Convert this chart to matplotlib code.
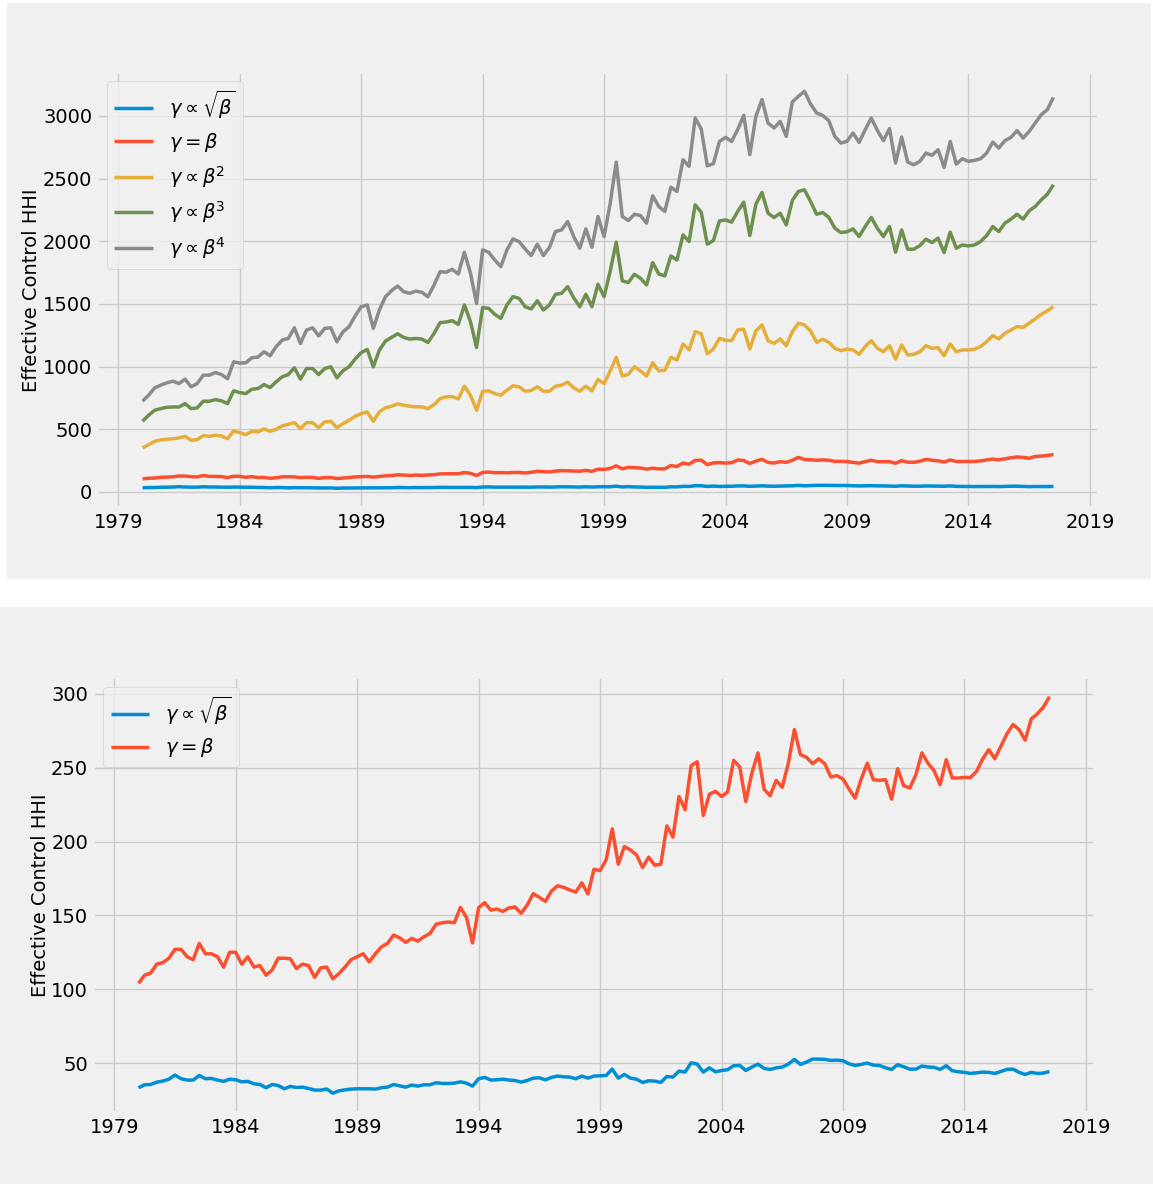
import numpy as np
import pandas as pd
from matplotlib import pyplot as plt
from matplotlib.patches import Rectangle

# Quarterly observations, 1980Q1 - 2017Q3
quarters = pd.period_range('1980Q1', '2017Q3', freq='Q')
years = quarters.year + (quarters.quarter - 1) / 4

# Effective control HHI for each gamma/beta assumption
hhi_sqrt = [
    33.3, 35.3, 35.5, 37.1, 37.8, 39.1, 41.9, 39.4, 38.5, 38.5,
    41.6, 39.4, 39.6, 38.5, 37.6, 39.1, 38.7, 37.3, 37.6, 36.0,
    35.5, 33.3, 35.5, 34.8, 32.6, 34.2, 33.5, 33.7, 32.8, 31.7,
    31.7, 32.4, 29.6, 31.2, 31.9, 32.4, 32.6, 32.6,
    32.6, 32.4, 33.3, 33.7, 35.5, 34.6, 33.7, 35.1, 34.4, 35.3,
    35.3, 36.7, 36.2, 36.2, 36.4, 37.3, 36.4, 34.4, 39.4, 40.3,
    38.5, 38.7, 39.1, 38.5, 38.2, 37.1, 38.2, 39.8, 40.0, 38.7,
    40.3, 41.2, 40.7, 40.5, 39.4, 41.2, 39.8, 41.2, 41.4,
    41.6, 45.9, 39.8, 42.3, 39.8, 39.1, 36.9, 38.0, 37.8, 36.9,
    40.9, 40.5, 44.6, 43.9, 50.2, 49.3, 43.9, 46.8, 44.1, 45.0,
    45.5, 48.2, 48.4, 45.0, 47.3, 49.3, 46.4, 45.7, 46.8, 47.3,
    49.3, 52.5, 49.1, 50.7, 52.7, 52.7, 52.5, 51.8, 52.0,
    51.6, 49.5, 48.4, 49.1, 50.0, 48.6, 48.4, 46.8, 45.7, 48.9,
    47.5, 45.9, 45.9, 48.0, 47.3, 47.1, 45.7, 48.2, 44.8, 44.1,
    43.7, 43.0, 43.4, 43.9, 43.7, 43.0, 44.3, 45.7, 45.9, 43.7,
    42.3, 43.7, 43.0, 43.2, 44.3,
]
hhi_lin = [
    104, 109.5, 111, 117, 118, 121, 127, 127, 122, 120,
    131, 124, 124, 122, 115, 125, 125, 117, 122, 115,
    116, 109.5, 113, 121, 121, 120.6, 114, 117, 116, 108,
    114.5, 115, 107, 110.6, 115, 120, 122, 124,
    118.5, 124, 128.7, 131, 136.7, 134.8, 131.7, 134.4, 132.6, 135.5,
    137.8, 144, 145, 145.5, 145, 155.4, 148.6, 131.4, 155.2, 158.6,
    153.6, 154.3, 152.7, 155, 155.7, 151.4, 157, 164.7, 162.2, 159.5,
    166.5, 170, 169, 167.2, 165.8, 172, 164.5, 181.2, 180.3,
    187.6, 208.6, 184.6, 196.6, 194.3, 191, 182.4, 189.4, 184, 184.6,
    210.6, 203, 230.5, 221.5, 251.4, 254, 217.6, 232, 234, 230.5,
    233.5, 255, 250.5, 227, 246.4, 260, 235.5, 231, 241.4, 236.7,
    253, 275.8, 258.8, 257, 252.7, 256, 252.7, 243.7, 244.6,
    242.3, 235.5, 229.4, 242.3, 253, 241.9, 241.4, 241.9, 228.7, 249.3,
    237.8, 236.2, 245.2, 260, 253, 248, 238.5, 255.4, 243, 243,
    243.4, 243.4, 247.5, 255.9, 262.2, 256.1, 264.5, 272.9, 279.2, 275.8,
    268.6, 283, 286.4, 291, 298,
]
hhi_sq = [
    351, 377, 404, 415, 420, 425, 431, 444, 412, 418,
    450, 444, 452, 447, 425, 487, 473, 457, 484, 479,
    503, 484, 500, 527, 540, 553, 505, 553, 553, 513,
    559, 564, 513, 545, 572, 604, 625, 639, 564,
    639, 671, 684, 703, 692, 684, 679, 679, 665, 697,
    745, 759, 761, 743, 844, 772, 652, 804, 807, 785,
    772, 812, 847, 839, 804, 809, 839, 804, 804, 844,
    852, 876, 831, 804, 844, 807, 898, 865, 965,
    1074, 925, 939, 1000, 965, 925, 1031, 965, 971, 1074,
    1053, 1181, 1133, 1279, 1263, 1103, 1141, 1226, 1210, 1207,
    1293, 1298, 1141, 1285, 1333, 1207, 1186, 1221, 1167, 1279,
    1346, 1333, 1285, 1194, 1218, 1194, 1146, 1128, 1140,
    1133, 1098, 1160, 1207, 1146, 1119, 1167, 1060, 1173, 1093,
    1098, 1119, 1167, 1146, 1151, 1087, 1181, 1119, 1133, 1133,
    1139, 1160, 1199, 1247, 1221, 1266, 1293, 1319, 1314, 1346,
    1381, 1418, 1445, 1479,
]
hhi_cube = [
    564, 612, 652, 665, 676, 678, 678, 705, 665, 671,
    724, 724, 737, 727, 705, 807, 793, 785, 820, 825,
    857, 833, 879, 919, 937, 991, 900, 985, 985, 937,
    985, 999, 911, 967, 999, 1060, 1111, 1137, 999,
    1132, 1204, 1233, 1262, 1233, 1220, 1225, 1220, 1193, 1265,
    1351, 1356, 1367, 1337, 1492, 1359, 1153, 1471, 1465, 1417,
    1385, 1492, 1558, 1545, 1478, 1460, 1526, 1452, 1492, 1577,
    1585, 1638, 1550, 1478, 1577, 1478, 1657, 1558, 1760,
    1993, 1684, 1671, 1737, 1705, 1652, 1830, 1740, 1724, 1883,
    1851, 2051, 1998, 2291, 2232, 1977, 2006, 2163, 2171, 2153,
    2238, 2312, 2046, 2296, 2390, 2224, 2190, 2224, 2131, 2326,
    2398, 2411, 2318, 2216, 2230, 2192, 2104, 2070, 2076,
    2099, 2038, 2118, 2190, 2104, 2038, 2118, 1913, 2091, 1937,
    1937, 1966, 2017, 1990, 2025, 1910, 2073, 1945, 1971, 1963,
    1971, 1998, 2046, 2118, 2078, 2145, 2177, 2216, 2177, 2243,
    2278, 2331, 2376, 2451,
]
hhi_quart = [
    724, 772, 831, 852, 871, 884, 865, 900, 839, 865,
    932, 932, 953, 937, 903, 1039, 1028, 1031, 1071, 1076,
    1119, 1087, 1159, 1212, 1225, 1310, 1185, 1292, 1310, 1246,
    1305, 1310, 1198, 1278, 1318, 1404, 1478, 1492, 1305,
    1452, 1558, 1606, 1643, 1598, 1585, 1603, 1593, 1558, 1651,
    1758, 1753, 1777, 1739, 1913, 1745, 1505, 1931, 1913, 1851,
    1798, 1931, 2019, 1998, 1939, 1886, 1977, 1886, 1950, 2078,
    2091, 2158, 2038, 1945, 2099, 1953, 2198, 2038, 2300,
    2632, 2198, 2166, 2216, 2206, 2145, 2363, 2278, 2238, 2432,
    2398, 2651, 2598, 2984, 2896, 2603, 2619, 2797, 2829, 2797,
    2891, 3005, 2691, 2997, 3131, 2944, 2904, 2957, 2837, 3112,
    3157, 3197, 3096, 3024, 3005, 2963, 2837, 2784, 2798,
    2864, 2789, 2891, 2984, 2885, 2803, 2899, 2624, 2832, 2632,
    2611, 2638, 2704, 2686, 2731, 2590, 2797, 2616, 2659, 2638,
    2646, 2659, 2704, 2792, 2744, 2803, 2829, 2883, 2824, 2877,
    2944, 3011, 3051, 3149,
]

labels = [r'$\gamma \propto \sqrt{\beta}$', r'$\gamma = \beta$',
          r'$\gamma \propto \beta^2$', r'$\gamma \propto \beta^3$',
          r'$\gamma \propto \beta^4$']
year_ticks = list(range(1979, 2020, 5))

plt.style.use('fivethirtyeight')
W, H = 1153, 1184
fig = plt.figure(figsize=(W / 100, H / 100), dpi=100, facecolor='white')

# grey backgrounds of the two stacked panels
fig.patches.append(Rectangle((7 / W, 1 - 578 / H), 1143 / W, 575 / H,
                             transform=fig.transFigure, color='#f0f0f0', zorder=-10))
fig.patches.append(Rectangle((0, 0), 1, 1 - 607 / H,
                             transform=fig.transFigure, color='#f0f0f0', zorder=-10))

# Top panel: all five assumptions
ax1 = fig.add_axes([97 / W, 1 - 508 / H, 1002 / W, 436.5 / H])
for series, label in zip([hhi_sqrt, hhi_lin, hhi_sq, hhi_cube, hhi_quart], labels):
    ax1.plot(years, series, lw=2.5, label=label)
ax1.set_xlim(1978.125, 2019.375)
ax1.set_ylim(-128, 3355)
ax1.set_xticks(year_ticks)
ax1.set_yticks(range(0, 3001, 500))
ax1.set_ylabel('Effective Control HHI', fontsize=14, labelpad=1)
ax1.tick_params(axis='both', which='major', labelsize=14)
ax1.legend(loc='upper left', fontsize=14)

# Bottom panel: zoom on the two smallest
ax2 = fig.add_axes([93 / W, 1 - 1113 / H, 1002 / W, 436 / H])
ax2.plot(years, hhi_sqrt, lw=2.5, label=labels[0])
ax2.plot(years, hhi_lin, lw=2.5, label=labels[1])
ax2.set_xlim(1978.125, 2019.375)
ax2.set_ylim(16.2, 311.4)
ax2.set_xticks(year_ticks)
ax2.set_yticks(range(50, 301, 50))
ax2.set_ylabel('Effective Control HHI', fontsize=14, labelpad=1)
ax2.tick_params(axis='both', which='major', labelsize=14)
ax2.legend(loc='upper left', fontsize=14)

plt.savefig('out.png', dpi=100, facecolor='white')
